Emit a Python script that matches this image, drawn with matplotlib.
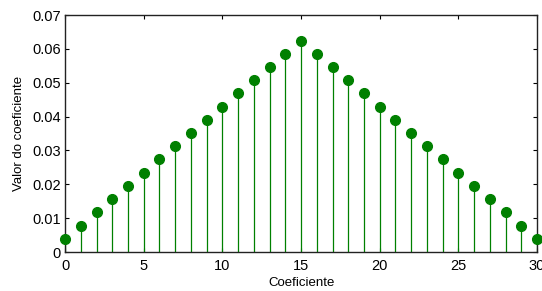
import matplotlib
matplotlib.use("Agg")
import matplotlib.pyplot as plt

plt.rcParams['font.family'] = ['Liberation Sans', 'DejaVu Sans']

n = list(range(31))
h = [0.00390625, 0.0078125, 0.01171875, 0.015625, 0.01953125, 0.0234375, 0.02734375,
     0.03125, 0.03515625, 0.0390625, 0.04296875, 0.046875, 0.05078125, 0.0546875,
     0.05859375, 0.0625, 0.05859375, 0.0546875, 0.05078125, 0.046875, 0.04296875,
     0.0390625, 0.03515625, 0.03125, 0.02734375, 0.0234375, 0.01953125, 0.015625,
     0.01171875, 0.0078125, 0.00390625]
xticks = [0, 5, 10, 15, 20, 25, 30]
yticks = [0, 0.01, 0.02, 0.03, 0.04, 0.05, 0.06, 0.07]
yticklabels = ['0', '0.01', '0.02', '0.03', '0.04', '0.05', '0.06', '0.07']

fig = plt.figure(figsize=(5.42, 2.91), dpi=100)
ax = fig.add_axes([0.12, 0.134, 0.871, 0.814])
green = (0, 0.5, 0)
ml, sl, bl = ax.stem(n, h, basefmt=' ')
plt.setp(sl, color=green, linewidth=0.9)
plt.setp(ml, color=green, markersize=7, clip_on=False, zorder=3)
ax.set_xlim(0, 30)
ax.set_ylim(0, 0.07)
ax.set_xticks(xticks)
ax.set_xticklabels([str(t) for t in xticks])
ax.set_yticks(yticks)
ax.set_yticklabels(yticklabels)
ax.tick_params(direction='in', top=True, right=True, labelsize=10.5, length=3, width=0.8)
ax.tick_params(axis='x', pad=5)
ax.tick_params(axis='y', pad=3)
for s in ax.spines.values():
    s.set_linewidth(1.0)
    s.set_color('#222222')
ax.set_xlabel('Coeficiente', fontsize=9.5, labelpad=3)
ax.set_ylabel('Valor do coeficiente', fontsize=9.5, labelpad=5)
fig.savefig('out.png', dpi=100)
